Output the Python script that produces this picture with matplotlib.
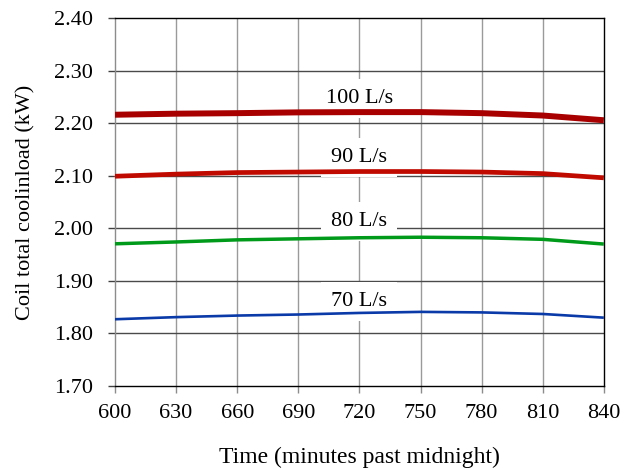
import matplotlib.pyplot as plt

# Werte
time_min = [600, 630, 660, 690, 720, 750, 780, 810, 840]
load_100 = [2.216, 2.218, 2.219, 2.2205, 2.221, 2.221, 2.219, 2.2145, 2.2055]
load_90 = [2.099, 2.103, 2.106, 2.107, 2.108, 2.108, 2.107, 2.104, 2.096]
load_80 = [1.9705, 1.974, 1.978, 1.980, 1.982, 1.983, 1.982, 1.979, 1.970]
load_70 = [1.827, 1.831, 1.834, 1.836, 1.839, 1.841, 1.840, 1.837, 1.830]

labels = ["100 L/s", "90 L/s", "80 L/s", "70 L/s"]
label_y = [2.247, 2.135, 2.013, 1.861]

plt.rcParams["font.family"] = ["Liberation Serif", "DejaVu Serif"]

fig = plt.figure(figsize=(6.3, 4.7), dpi=100)
ax = fig.add_axes([0.1825, 0.1787, 0.776, 0.783])

series = [
    (load_100, "#a80000", 4.3),
    (load_90, "#c00a00", 3.4),
    (load_80, "#009a1a", 2.5),
    (load_70, "#0a3aa8", 1.9),
]
for vals, color, lw in series:
    ax.plot(time_min, vals, color=color, lw=lw, solid_capstyle="butt",
            solid_joinstyle="round", zorder=3)

# Beschriftungen: weiße Box verdeckt Gitter, nicht die Kurven
for txt, y in zip(labels, label_y):
    ax.text(720, y, txt, ha="center", va="center", fontsize=16, zorder=2,
            bbox=dict(fc="white", ec="none", boxstyle="square,pad=0.45"))

ax.set_xlim(600, 840)
ax.set_ylim(1.70, 2.40)
ax.set_xticks(range(600, 841, 30))
ax.set_yticks([1.70 + 0.1 * i for i in range(8)])
ax.set_yticklabels([f"{1.70 + 0.1 * i:.2f}" for i in range(8)])

for x in range(630, 840, 30):
    ax.axvline(x, color="#9a9a9a", lw=1.0, zorder=1)
for i in range(1, 7):
    ax.axhline(1.70 + 0.1 * i, color="#4a4a4a", lw=1.0, zorder=1)

for side in ["top", "right", "bottom"]:
    ax.spines[side].set_color("black")
    ax.spines[side].set_linewidth(1.0)
ax.spines["left"].set_color("#8c8c8c")
ax.spines["left"].set_linewidth(1.0)

ax.tick_params(axis="both", direction="out", length=5, width=1.0,
               labelsize=16, labelcolor="black")
ax.tick_params(axis="x", color="#8c8c8c", pad=8)
ax.tick_params(axis="y", color="#404040", pad=11)

ax.set_xlabel("Time (minutes past midnight)", fontsize=17, labelpad=17)
ax.set_ylabel("Coil total coolinload (kW)", fontsize=16, labelpad=13)

fig.savefig("out.png", dpi=100)
